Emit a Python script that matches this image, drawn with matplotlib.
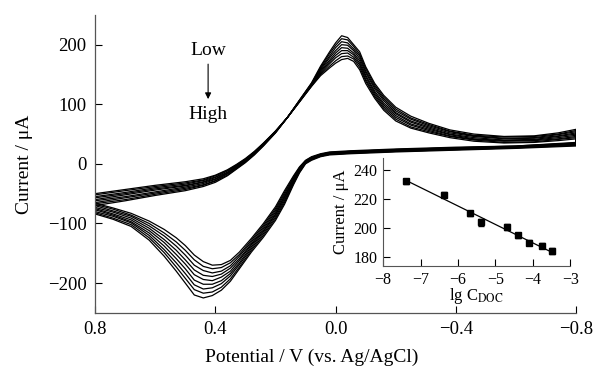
"""
Cyclic voltammograms at increasing concentration, with inset calibration plot.
"""

import matplotlib

matplotlib.use("Agg")
import matplotlib.pyplot as plt
import numpy as np

plt.rcParams["font.family"] = ["Liberation Serif", "DejaVu Serif"]
plt.rcParams["mathtext.fontset"] = "stix"

# upper branch (scan 0.8 -> -0.8 V); each row: currents of the 9 curves, inner -> outer
upper_potential = [0.80, 0.70, 0.60, 0.50, 0.44, 0.40, 0.36, 0.33, 0.30, 0.27, 0.24,
                   0.20, 0.16, 0.12, 0.08, 0.05, 0.02, 0.00, -0.02, -0.04, -0.06,
                   -0.08, -0.10, -0.13, -0.16, -0.20, -0.25, -0.31, -0.38, -0.46,
                   -0.56, -0.66, -0.74, -0.80]
upper_current = [
    [-50, -52, -55, -57, -60, -62, -65, -67, -70],
    [-43, -45, -48, -50, -52, -55, -57, -60, -62],
    [-36, -38, -40, -42, -44, -47, -49, -51, -53],
    [-30, -32, -34, -36, -37, -39, -41, -43, -45],
    [-25, -27, -28, -30, -31, -33, -35, -36, -38],
    [-19, -20, -22, -23, -25, -26, -28, -29, -31],
    [-10, -11, -12, -14, -15, -16, -17, -19, -20],
    [-1, -2, -3, -4, -5, -6, -7, -8, -9],
    [9, 8, 7, 6, 6, 5, 4, 3, 2],
    [21, 20, 20, 19, 18, 17, 17, 16, 15],
    [35, 34, 34, 33, 32, 32, 31, 31, 30],
    [55, 55, 54, 54, 54, 53, 53, 52, 52],
    [78, 78, 78, 78, 78, 78, 78, 78, 78],
    [104, 104, 105, 105, 105, 106, 106, 107, 107],
    [130, 131, 131, 132, 133, 134, 134, 135, 136],
    [148, 150, 152, 154, 156, 158, 160, 162, 164],
    [161, 164, 168, 171, 174, 178, 181, 185, 188],
    [169, 173, 178, 182, 186, 190, 195, 199, 203],
    [175, 180, 185, 190, 195, 200, 205, 210, 215],
    [177, 181, 186, 190, 194, 199, 203, 208, 212],
    [172, 176, 179, 183, 186, 190, 193, 197, 200],
    [158, 162, 166, 169, 173, 177, 181, 184, 188],
    [135, 139, 142, 146, 149, 153, 156, 160, 163],
    [110, 113, 116, 119, 122, 126, 129, 132, 135],
    [90, 93, 96, 99, 102, 106, 109, 112, 115],
    [72, 75, 78, 81, 84, 86, 89, 92, 95],
    [60, 62, 65, 67, 70, 72, 75, 77, 80],
    [52, 54, 56, 58, 60, 62, 64, 66, 68],
    [44, 46, 47, 49, 50, 52, 54, 55, 57],
    [38, 40, 41, 42, 44, 46, 47, 48, 50],
    [35, 36, 38, 39, 40, 42, 43, 45, 46],
    [36, 37, 39, 40, 41, 43, 44, 46, 47],
    [39, 41, 42, 44, 46, 47, 49, 50, 52],
    [42, 44, 46, 48, 50, 52, 54, 56, 58],
]

# lower branch (scan -0.8 -> 0.8 V)
lower_potential = [-0.80, -0.60, -0.40, -0.20, -0.05, 0.02, 0.05, 0.08, 0.10, 0.12,
                   0.14, 0.17, 0.20, 0.24, 0.28, 0.32, 0.35, 0.38, 0.41, 0.44, 0.47,
                   0.50, 0.53, 0.57, 0.62, 0.68, 0.74, 0.80]
lower_current = [
    [36, 35, 35, 34, 33, 32, 32, 31, 30],
    [30, 30, 29, 29, 28, 28, 27, 27, 26],
    [28, 27, 27, 26, 26, 25, 24, 24, 23],
    [25, 24, 24, 23, 23, 22, 21, 21, 20],
    [22, 21, 21, 20, 20, 19, 18, 18, 17],
    [20, 19, 19, 18, 18, 17, 16, 16, 15],
    [17, 16, 16, 15, 15, 14, 13, 13, 12],
    [12, 11, 11, 10, 9, 8, 8, 7, 6],
    [6, 5, 5, 4, 3, 2, 2, 1, 0],
    [-5, -6, -8, -9, -10, -11, -12, -14, -15],
    [-20, -22, -24, -26, -28, -29, -31, -33, -35],
    [-45, -48, -51, -54, -56, -59, -62, -65, -68],
    [-72, -75, -78, -81, -84, -86, -89, -92, -95],
    [-100, -103, -106, -109, -112, -114, -117, -120, -123],
    [-125, -128, -131, -134, -136, -139, -142, -145, -148],
    [-148, -152, -155, -159, -162, -166, -169, -173, -176],
    [-162, -166, -171, -175, -180, -184, -188, -193, -197],
    [-169, -174, -180, -185, -190, -196, -201, -207, -212],
    [-170, -176, -183, -189, -196, -202, -208, -215, -221],
    [-164, -172, -179, -187, -194, -202, -210, -217, -225],
    [-153, -161, -170, -178, -186, -195, -203, -211, -220],
    [-137, -145, -153, -161, -168, -176, -184, -192, -200],
    [-124, -131, -138, -145, -152, -159, -166, -173, -180],
    [-110, -116, -121, -127, -132, -138, -144, -149, -155],
    [-96, -100, -104, -108, -112, -116, -120, -124, -128],
    [-83, -86, -88, -91, -94, -97, -99, -102, -105],
    [-74, -76, -79, -81, -84, -86, -88, -91, -93],
    [-66, -68, -70, -73, -75, -77, -80, -82, -84],
]

# inset: peak current vs lg C
lg_conc = [-7.38, -6.37, -5.67, -5.38, -4.68, -4.39, -4.10, -3.75, -3.48]
peak_current = [232, 223, 210, 204, 201, 195, 190, 188, 184]
peak_error = [2.0, 2.0, 1.5, 2.5, 2.0, 1.5, 1.5, 2.0, 2.0]
fit_lg_conc = [-7.45, -3.42]
fit_current = [233.5, 182.5]

x_ticks = [0.8, 0.4, 0.0, -0.4, -0.8]
y_ticks = [-200, -100, 0, 100, 200]
inset_x_ticks = [-8, -7, -6, -5, -4, -3]
inset_y_ticks = [180, 200, 220, 240]

fig = plt.figure(figsize=(5.94, 3.72), dpi=100)
ax = fig.add_axes([0.160, 0.159, 0.810, 0.801])

up = np.array(upper_current).T
low = np.array(lower_current).T
for k in range(up.shape[0]):
    v = list(upper_potential) + list(lower_potential)
    i = list(up[k]) + list(low[k])
    ax.plot(v, i, color="black", lw=0.9)

ax.set_xlim(0.8, -0.8)
ax.set_ylim(-250, 250)
ax.set_xticks(x_ticks)
ax.set_xticklabels(["0.8", "0.4", "0.0", "\u22120.4", "\u22120.8"])
ax.set_yticks(y_ticks)
ax.set_yticklabels(["\u2212200", "\u2212100", "0", "100", "200"])
ax.tick_params(direction="in", length=5, width=0.8, labelsize=13.5, pad=6)
for side in ["top", "right"]:
    ax.spines[side].set_visible(False)
for side in ["left", "bottom"]:
    ax.spines[side].set_linewidth(0.9)
    ax.spines[side].set_color("#555555")

ax.set_ylabel("Current / \u03bcA", fontsize=14, labelpad=11)
fig.text(312 / 594, 1 - 357 / 372, "Potential / V (vs. Ag/AgCl)",
         ha="center", va="center", fontsize=14)

ax.text(0.424, 190, "Low", ha="center", va="center", fontsize=14)
ax.text(0.424, 82, "High", ha="center", va="center", fontsize=14)
ax.annotate("", xy=(0.424, 104), xytext=(0.424, 172),
            arrowprops=dict(arrowstyle="-|>", color="black", lw=0.8,
                            mutation_scale=9))

ins = fig.add_axes([0.645, 0.285, 0.315, 0.290])
ins.patch.set_alpha(0)
ins.errorbar(lg_conc, peak_current, yerr=peak_error, fmt="s", color="black",
             ms=4, capsize=2, elinewidth=0.8)
ins.plot(fit_lg_conc, fit_current, color="black", lw=0.9)
ins.set_xlim(-8, -3)
ins.set_ylim(174, 248)
ins.set_xticks(inset_x_ticks)
ins.set_xticklabels(["\u22128", "\u22127", "\u22126", "\u22125", "\u22124", "\u22123"])
ins.set_yticks(inset_y_ticks)
ins.tick_params(direction="in", length=5, width=0.8, labelsize=11.5, pad=4)
for side in ["top", "right"]:
    ins.spines[side].set_visible(False)
for side in ["left", "bottom"]:
    ins.spines[side].set_color("#555555")
ins.set_ylabel("Current / \u03bcA", fontsize=12, labelpad=3)
ins.set_xlabel(r"lg C$_{\mathrm{DOC}}$", fontsize=12, labelpad=-1)

fig.savefig("out.png", dpi=100)
